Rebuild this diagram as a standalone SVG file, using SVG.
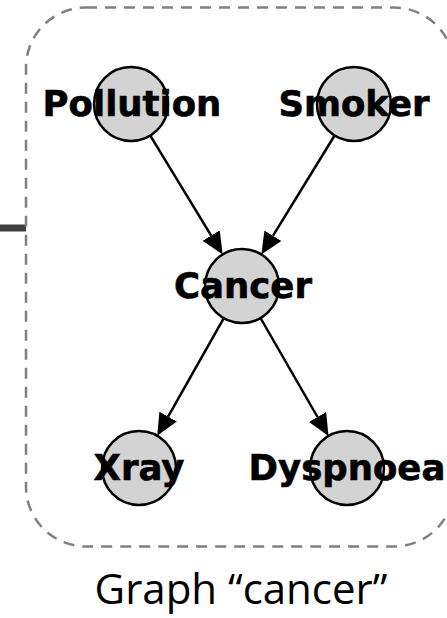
<svg xmlns="http://www.w3.org/2000/svg" width="447" height="618" viewBox="0 0 447 618">
  <style>
    .node circle { fill: #d3d3d3; stroke: #000; stroke-width: 2.5; }
    .node text { font-family: "DejaVu Sans", "Liberation Sans", sans-serif; font-weight: bold; font-size: 35.5px; text-anchor: middle; fill: #000; stroke: #000; stroke-width: 0.6; }
    .edge { stroke: #000; stroke-width: 2.5; fill: none; marker-end: url(#arrow); }
    .cluster { fill: none; stroke: #808080; stroke-width: 2.5; stroke-dasharray: 11 8; }
    .caption { font-family: "Open Sans", "Noto Sans", sans-serif; font-size: 42px; text-anchor: middle; fill: #000; }
  </style>
  <defs>
    <marker id="arrow" markerUnits="userSpaceOnUse" markerWidth="22" markerHeight="20" refX="0" refY="10" orient="auto">
      <path d="M0,0 L22,10 L0,20 z" fill="#000"/>
    </marker>
  </defs>

  <rect width="447" height="618" fill="#fff"/>

  <!-- lead-in bar -->
  <rect x="0" y="224.5" width="26" height="7" fill="#404040"/>

  <!-- cluster boundary -->
  <rect class="cluster" x="26" y="7.5" width="428" height="539" rx="60" ry="60"/>

  <!-- connectors -->
  <g id="edges">
    <line class="edge" x1="150.3" y1="135.6" x2="211.2" y2="235.6"/>
    <line class="edge" x1="334.6" y1="135.5" x2="272.9" y2="235.8"/>
    <line class="edge" x1="223.8" y1="318.2" x2="168.1" y2="416.6"/>
    <line class="edge" x1="260.5" y1="318" x2="317.5" y2="417"/>
  </g>

  <g id="Pollution" class="node">
    <circle cx="131" cy="104" r="37"/>
    <text x="132" y="116">Pollution</text>
  </g>
  <g id="Smoker" class="node">
    <circle cx="354" cy="104" r="37"/>
    <text x="354" y="116">Smoker</text>
  </g>
  <g id="Cancer" class="node">
    <circle cx="242" cy="286" r="37"/>
    <text x="243" y="298">Cancer</text>
  </g>
  <g id="Xray" class="node">
    <circle cx="139" cy="468" r="37"/>
    <text x="139" y="480">Xray</text>
  </g>
  <g id="Dyspnoea" class="node">
    <circle cx="347" cy="468" r="37"/>
    <text x="347" y="480">Dyspnoea</text>
  </g>

  <text class="caption" x="241" y="604">Graph “cancer”</text>
</svg>
